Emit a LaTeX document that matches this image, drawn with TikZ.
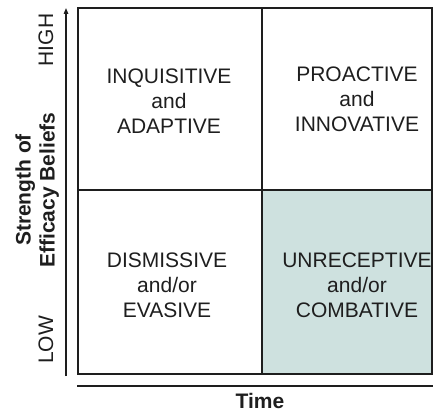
\documentclass[tikz,border=0pt]{standalone}
\usepackage{fontspec}
\setmainfont{Liberation Sans}
\usetikzlibrary{arrows.meta}
\definecolor{quadfill}{RGB}{206,225,223}
\definecolor{ink}{RGB}{30,30,30}
\begin{document}
\begin{tikzpicture}[x=1pt,y=1pt,
  quadtext/.style={align=center,font=\fontsize{21}{25}\selectfont,text=ink,inner sep=0pt},
  axtitle/.style={align=center,font=\fontsize{21}{24}\selectfont\bfseries,text=ink,inner sep=0pt},
  timetext/.style={font=\fontsize{21}{24}\selectfont\bfseries,text=ink,inner sep=0pt,text depth=0pt},
  axlabel/.style={font=\fontsize{21}{24}\selectfont,text=ink,inner sep=0pt,rotate=90},
  gridline/.style={draw=ink,line width=1.6pt},
  axisline/.style={draw=ink,line width=1.3pt}]
\useasboundingbox (0,0) rectangle (433,413);
% cells
\fill[quadfill] (262,39) rectangle (432,223);
\draw[gridline] (78,39) rectangle (432,405);
\draw[gridline] (262,39) -- (262,405);
\draw[gridline] (78,223) -- (432,223);
% quadrant texts
\node[quadtext] (q1) at (169,312) {INQUISITIVE\\and\\ADAPTIVE};
\node[quadtext] (q2) at (357,313.5) {PROACTIVE\\and\\INNOVATIVE};
\node[quadtext] (q3) at (167,128) {DISMISSIVE\\and/or\\EVASIVE};
\node[quadtext] (q4) at (357,128) {UNRECEPTIVE\\and/or\\COMBATIVE};
% axes
\coordinate (ybot) at (66,37);
\coordinate (ytop) at (66,405);
\draw[axisline,-{Triangle[length=6pt,width=4.5pt]}] (ybot) -- (ytop);
\coordinate (xl) at (77,27);
\coordinate (xr) at (433,27);
\draw[axisline] (xl) -- (xr);
% axis labels
\node[axlabel] (high) at (46,373) {HIGH};
\node[axlabel] (low) at (46,73) {LOW};
\node[axtitle,rotate=90,text depth=0pt] (ytitle) at (35,223) {Strength of\\Efficacy Beliefs};
\node[timetext,anchor=base] (xtitle) at (260,5) {Time};
\end{tikzpicture}
\end{document}
